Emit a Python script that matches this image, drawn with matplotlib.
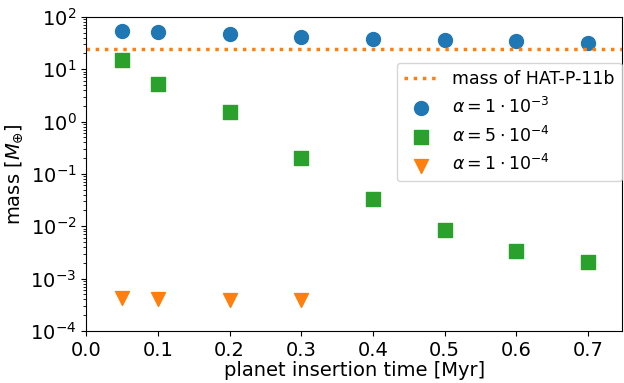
import matplotlib
matplotlib.use("Agg")
import matplotlib.pyplot as plt

times = [0.05, 0.1, 0.2, 0.3, 0.4, 0.5, 0.6, 0.7]
mass_a1e3 = [53, 51, 47, 41.5, 38, 36.4, 34.8, 31]
mass_a5e4 = [15, 5.25, 1.53, 0.20, 0.033, 0.0085, 0.0034, 0.0021]
times_a1e4 = [0.05, 0.1, 0.2, 0.3]
mass_a1e4 = [4.3e-4, 4.1e-4, 3.95e-4, 3.9e-4]
hat_p_11b = 24.2

fig = plt.figure(figsize=(6.24, 3.83), dpi=100)
ax = fig.add_axes([0.138, 0.136, 0.859, 0.820])
ax.axhline(hat_p_11b, color='#ff7f0e', ls=':', lw=2.5, label='mass of HAT-P-11b')
ax.scatter(times, mass_a1e3, s=100, marker='o', color='#1f77b4', label=r'$\alpha=1\cdot10^{-3}$')
ax.scatter(times, mass_a5e4, s=90, marker='s', color='#2ca02c', label=r'$\alpha=5\cdot10^{-4}$')
ax.scatter(times_a1e4, mass_a1e4, s=100, marker='v', color='#ff7f0e', label=r'$\alpha=1\cdot10^{-4}$')
ax.set_yscale('log')
ax.set_ylim(1e-4, 1e2)
ax.set_xlim(0, 0.7475)
ax.set_xticks([0.0, 0.1, 0.2, 0.3, 0.4, 0.5, 0.6, 0.7])
ax.tick_params(labelsize=14)
ax.set_xlabel('planet insertion time [Myr]', fontsize=14, labelpad=1)
ax.set_ylabel(r'mass [$M_{\oplus}$]', fontsize=14)
ax.legend(fontsize=12.5, loc='upper right', bbox_to_anchor=(0.999, 0.853), borderaxespad=0)
fig.savefig('out.png', dpi=100)
